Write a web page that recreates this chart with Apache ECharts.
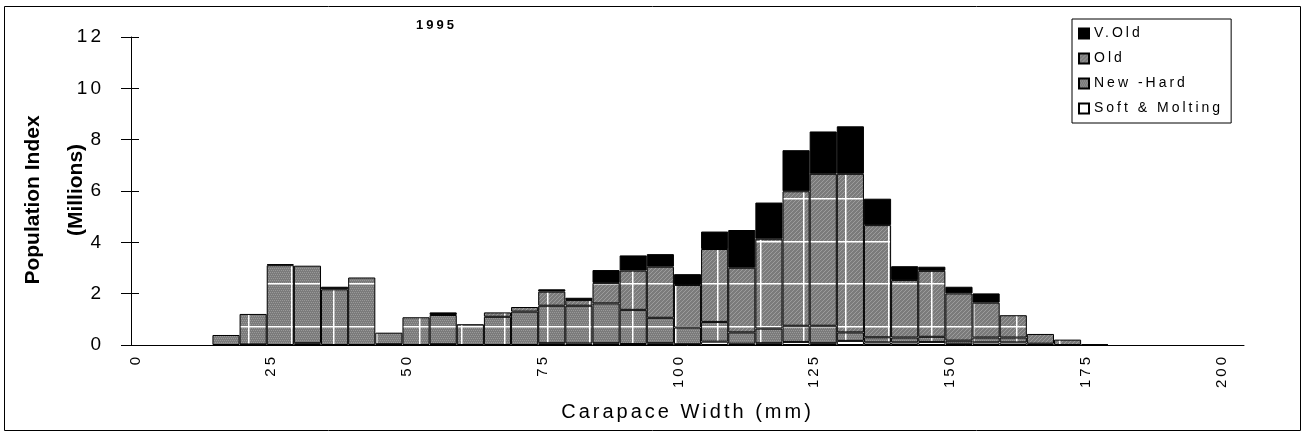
<!DOCTYPE html>
<html>
<head>
<meta charset="UTF-8">
<title>1995 Population Index</title>
<script src="https://cdn.jsdelivr.net/npm/echarts@6/dist/echarts.min.js"></script>
<style>
    html, body { margin: 0; padding: 0; background: #fff; }
    #chart { width: 1304px; height: 437px; }
</style>
</head>
<body>
<div id="chart"></div>
<script>
// 5 mm width classes
var categories = ['0','5','10','15','20','25','30','35','40','45','50','55','60','65','70','75','80','85','90','95','100',
    '105','110','115','120','125','130','135','140','145','150','155','160','165','170','175','180','185','190','195','200'];
var xTickLabels = ['0','25','50','75','100','125','150','175','200'];
var yTicks = [0, 2, 4, 6, 8, 10, 12];

// millions, stacked bottom -> top
var softMolting = [null,null,null,null,0.02,null,0.07,null,null,0.03,null,0.03,null,null,null,0.07,0.06,0.07,0.04,0.07,0.03,
    0.13,0.05,0.07,0.12,0.07,0.16,0.10,0.10,0.12,0.05,0.10,0.10,0.05,null,null,null,null,null,null,null];
var newHard = [null,null,null,0.39,1.19,3.11,3.02,2.17,2.63,0.45,1.08,1.14,0.81,1.10,1.30,1.46,1.47,1.55,1.33,0.99,0.65,
    0.77,0.44,0.57,0.63,0.68,0.33,0.20,0.19,0.20,0.12,0.19,0.19,null,null,null,null,null,null,null,null];
var old = [null,null,null,null,null,null,null,null,null,null,null,null,null,0.17,0.18,0.55,0.22,0.80,1.53,1.99,1.66,
    2.84,2.52,3.50,5.24,5.92,6.18,4.37,2.24,2.57,1.84,1.36,0.87,0.38,0.21,0.03,null,null,null,null,null];
var vOld = [null,null,null,null,null,0.04,null,0.10,null,null,null,0.10,null,null,null,0.09,0.09,0.50,0.59,0.49,0.42,
    0.68,1.47,1.41,1.60,1.65,1.85,1.03,0.54,0.16,0.26,0.36,null,null,null,null,null,null,null,null,null];

// the old chart spreads its letters out; canvas can do that with letterSpacing
var SPACED = "'Liberation Sans', Arial";
var PLAIN = "Arial, 'Liberation Sans'";
var proto = CanvasRenderingContext2D.prototype;
['fillText', 'strokeText', 'measureText'].forEach(function (fn) {
    var orig = proto[fn];
    proto[fn] = function () {
        if ('letterSpacing' in this) {
            this.letterSpacing = this.font.indexOf('Arial, ') >= 0 ? '0px' : '3px';
        }
        return orig.apply(this, arguments);
    };
});

// grey fills with the coarse white grid seen on the print
function makeFill(kind) {
    var c = document.createElement('canvas');
    c.width = 128; c.height = 128;
    var g = c.getContext('2d');
    g.fillStyle = '#7b7b7b';
    g.fillRect(0, 0, 128, 128);
    if (kind === 'dots') {
        g.fillStyle = '#999';
        for (var y = 0; y < 128; y += 2) {
            for (var x = (y / 2) % 2; x < 128; x += 2) g.fillRect(x, y, 1, 1);
        }
    } else {
        g.strokeStyle = '#9c9c9c';
        g.lineWidth = 1;
        for (var i = -128; i < 256; i += 4) {
            g.beginPath(); g.moveTo(i, 128); g.lineTo(i + 128, 0); g.stroke();
        }
    }
    g.fillStyle = '#fff';
    [35, 77, 120].forEach(function (p) { g.fillRect(p, 0, 1.5, 128); });
    [27, 70, 113].forEach(function (p) { g.fillRect(0, p, 128, 1.5); });
    return {image: c, repeat: 'repeat'};
}

var myChart = echarts.init(document.getElementById('chart'));

function barSeries(name, data, color) {
    return {
        name: name,
        type: 'bar',
        stack: 'all',
        barWidth: '100%',
        barCategoryGap: 0,
        data: data,
        itemStyle: {color: color, borderColor: '#000', borderWidth: 1},
        emphasis: {disabled: true}
    };
}

function yTitle(text, x, y) {
    return {
        type: 'text',
        x: x, y: y,
        rotation: Math.PI / 2,
        silent: true,
        style: {
            text: text,
            font: "bold 21px " + PLAIN,
            fill: '#000',
            align: 'center', verticalAlign: 'middle',
            textAlign: 'center', textVerticalAlign: 'middle'
        }
    };
}

var option = {
    animation: false,
    title: {
        text: '1995',
        left: 416, top: 17, padding: 0,
        textStyle: {fontFamily: SPACED, fontSize: 13, fontWeight: 'bold', color: '#000'}
    },
    legend: {
        data: ['V.Old', 'Old', 'New -Hard', 'Soft & Molting'],
        orient: 'vertical',
        left: 1072, top: 19,
        padding: [6, 8, 6, 6],
        itemGap: 8,
        itemWidth: 10, itemHeight: 10,
        icon: 'rect',
        borderColor: '#000', borderWidth: 1,
        selectedMode: false,
        textStyle: {fontFamily: SPACED, fontSize: 14, color: '#000', lineHeight: 15}
    },
    grid: {left: 131, right: 60, top: 37, bottom: 92, outerBoundsMode: 'none'},
    xAxis: {
        type: 'category',
        data: categories,
        name: 'Carapace Width (mm)',
        nameLocation: 'middle',
        nameGap: 56,
        nameTextStyle: {fontFamily: SPACED, fontSize: 20, color: '#000'},
        axisLine: {lineStyle: {color: '#000', width: 1}},
        axisTick: {interval: 0, length: 5, lineStyle: {color: '#000'}},
        axisLabel: {
            interval: 0,
            rotate: 90,
            margin: 9,
            verticalAlign: 'bottom',
            fontFamily: SPACED, fontSize: 15, color: '#000',
            formatter: function (v) { return xTickLabels.indexOf(v) >= 0 ? v : ''; }
        },
        splitLine: {show: false}
    },
    yAxis: [
        {
            type: 'value',
            min: yTicks[0], max: yTicks[yTicks.length - 1], interval: 2,
            axisLine: {show: true, lineStyle: {color: '#000', width: 1}},
            axisTick: {show: true, length: 10, lineStyle: {color: '#000'}},
            axisLabel: {margin: 27, fontFamily: SPACED, fontSize: 19, color: '#000'},
            splitLine: {show: false}
        },
        {
            // inner half of the crossing ticks
            type: 'value',
            position: 'left',
            min: yTicks[0], max: yTicks[yTicks.length - 1], interval: 2,
            axisLine: {show: false},
            axisTick: {show: true, inside: true, length: 8, lineStyle: {color: '#000'}},
            axisLabel: {show: false},
            splitLine: {show: false}
        }
    ],
    graphic: [
        {
            type: 'rect',
            shape: {x: 4.5, y: 6.5, width: 1296, height: 424},
            style: {fill: 'none', stroke: '#000', lineWidth: 1},
            silent: true
        },
        yTitle('Population Index', 33, 200),
        yTitle('(Millions)', 76, 190)
    ],
    series: [
        barSeries('Soft & Molting', softMolting, '#fff'),
        barSeries('New -Hard', newHard, makeFill('dots')),
        barSeries('Old', old, makeFill('hatch')),
        barSeries('V.Old', vOld, '#000')
    ]
};
myChart.setOption(option, true);
</script>
</body>
</html>
